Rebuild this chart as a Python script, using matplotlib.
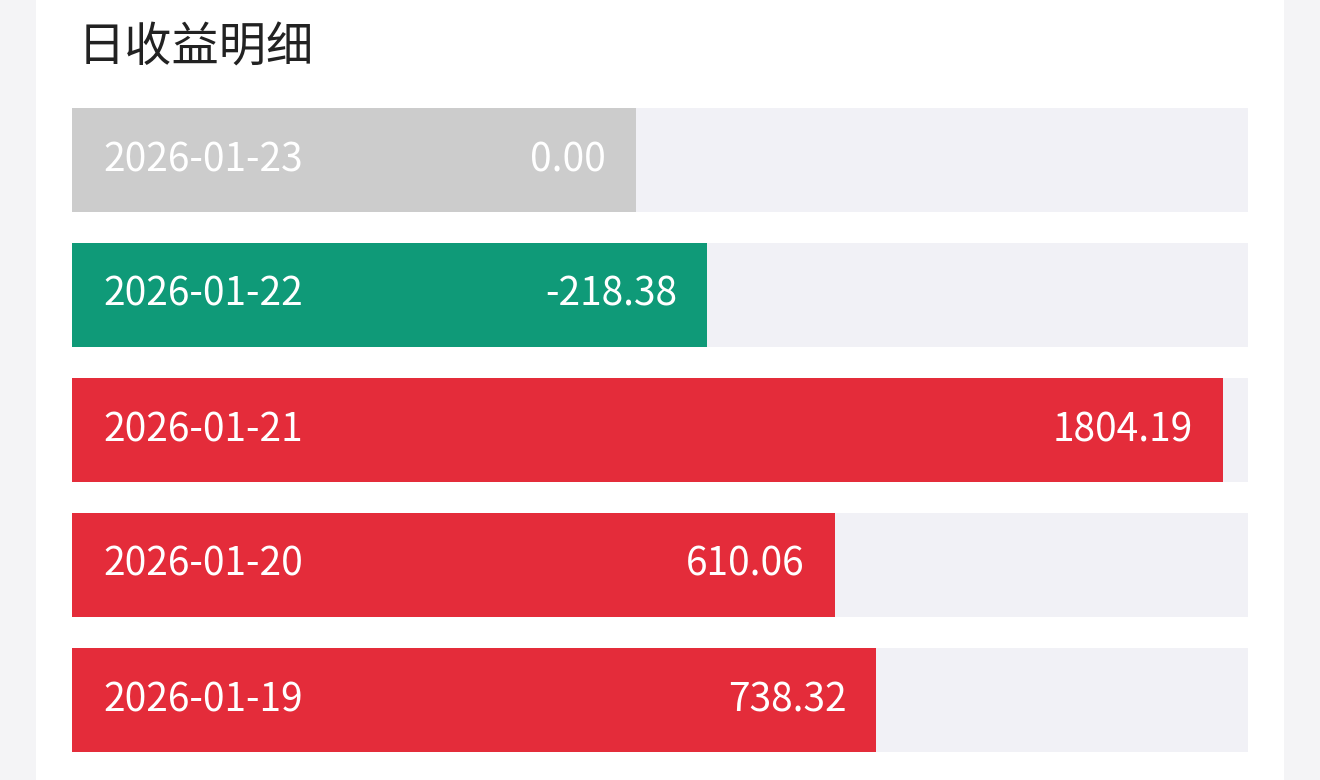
import matplotlib
matplotlib.use("Agg")
import matplotlib.pyplot as plt
from matplotlib.patches import Rectangle

plt.rcParams['font.family'] = ['Noto Sans CJK SC', 'DejaVu Sans']

title = "日收益明细"
dates = ["2026-01-23", "2026-01-22", "2026-01-21", "2026-01-20", "2026-01-19"]
values = [0.00, -218.38, 1804.19, 610.06, 738.32]

W, H = 1320, 780
fig = plt.figure(figsize=(W/100, H/100), dpi=100)
fig.patch.set_facecolor("#f4f4f6")
fig.add_artist(Rectangle((36/W, 0), (1284-36)/W, 1, transform=fig.transFigure,
                         facecolor="white", edgecolor="none", zorder=0))
fig.text(78/W, 1-48/H, title, fontsize=34, fontweight="medium", color="#222222",
         va="center", ha="left")

ax = fig.add_axes([72/W, 1-752/H, (1248-72)/W, (752-108)/H])
ax.set_facecolor("none")
base = 1733
xmax = 1880
ax.set_xlim(-base, xmax)
ax.set_ylim(4 + 52/135, -52/135)
ax.axis("off")
h = 104/135
pad = 30 / ((1248-72)/(xmax+base))
for i, (d, v) in enumerate(zip(dates, values)):
    ax.barh(i, xmax+base, left=-base, height=h, color="#f1f1f6", zorder=1)
    col = "#cccccc" if v == 0 else ("#0f9a78" if v < 0 else "#e42c3a")
    ax.barh(i, abs(v)+base, left=-base, height=h, color=col, zorder=2)
    ax.text(-base + 31/((1248-72)/(xmax+base)), i, d, color="white", fontsize=28,
            va="center", ha="left", zorder=3)
    ax.text(abs(v) - pad, i, f"{v:.2f}", color="white", fontsize=28,
            va="center", ha="right", zorder=3)

fig.savefig("out.png", dpi=100)
